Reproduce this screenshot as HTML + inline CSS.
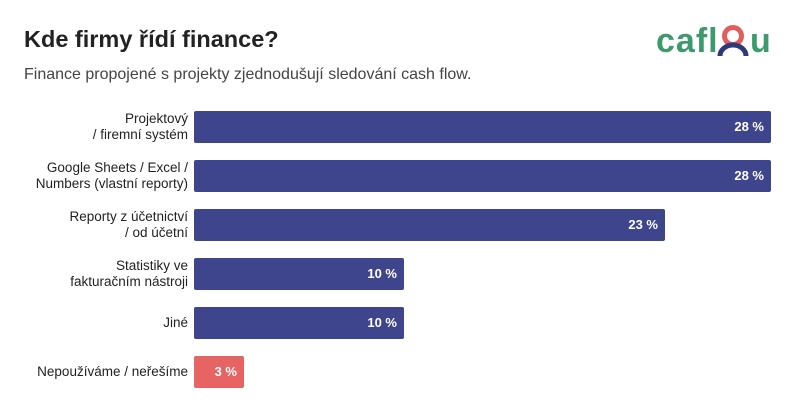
<!DOCTYPE html>
<html><head><meta charset="utf-8"><style>
body{margin:0;width:800px;height:410px;background:#fff;font-family:"Liberation Sans",sans-serif;position:relative;overflow:hidden}
.t{position:absolute;left:24px;top:26px;font-size:23.5px;font-weight:bold;color:#222}
.s{position:absolute;left:24px;top:66px;font-size:16px;color:#444}
.bar{position:absolute;left:194px;height:32px;border-radius:2px;background:#3f458c}
.v{position:absolute;right:7px;top:8px;color:#fff;font-weight:bold;font-size:13px}
.l{position:absolute;right:612px;width:200px;text-align:right;font-size:13.5px;color:#222;line-height:16px}
.lg{position:absolute;top:22px;font-size:34px;font-weight:bold;color:#3d9a6c;white-space:nowrap}
</style></head><body>
<div class="t">Kde firmy řídí finance?</div>
<div class="s">Finance propojené s projekty zjednodušují sledování cash flow.</div>
<div class="lg" style="left:656px;letter-spacing:1px">cafl</div>
<div class="lg" style="left:750px">u</div>
<svg style="position:absolute;left:716px;top:24px" width="34" height="34"><circle cx="17" cy="12" r="8.5" fill="none" stroke="#e45d5d" stroke-width="5"/><path d="M4 32 A13 11 0 0 1 30 32" fill="none" stroke="#2e3a78" stroke-width="5"/></svg>
<div class="l" style="top:111px">Projektový<br>/ firemní systém</div>
<div class="bar" style="top:111px;width:577px"><span class="v">28 %</span></div>
<div class="l" style="top:160px">Google Sheets / Excel /<br>Numbers (vlastní reporty)</div>
<div class="bar" style="top:160px;width:577px"><span class="v">28 %</span></div>
<div class="l" style="top:209px">Reporty z účetnictví<br>/ od účetní</div>
<div class="bar" style="top:209px;width:471px"><span class="v">23 %</span></div>
<div class="l" style="top:258px">Statistiky ve<br>fakturačním nástroji</div>
<div class="bar" style="top:258px;width:210px"><span class="v">10 %</span></div>
<div class="l" style="top:315px">Jiné</div>
<div class="bar" style="top:307px;width:210px"><span class="v">10 %</span></div>
<div class="l" style="top:364px">Nepoužíváme / neřešíme</div>
<div class="bar" style="top:356px;width:50px;background:#e76464"><span class="v">3 %</span></div>
</body></html>
